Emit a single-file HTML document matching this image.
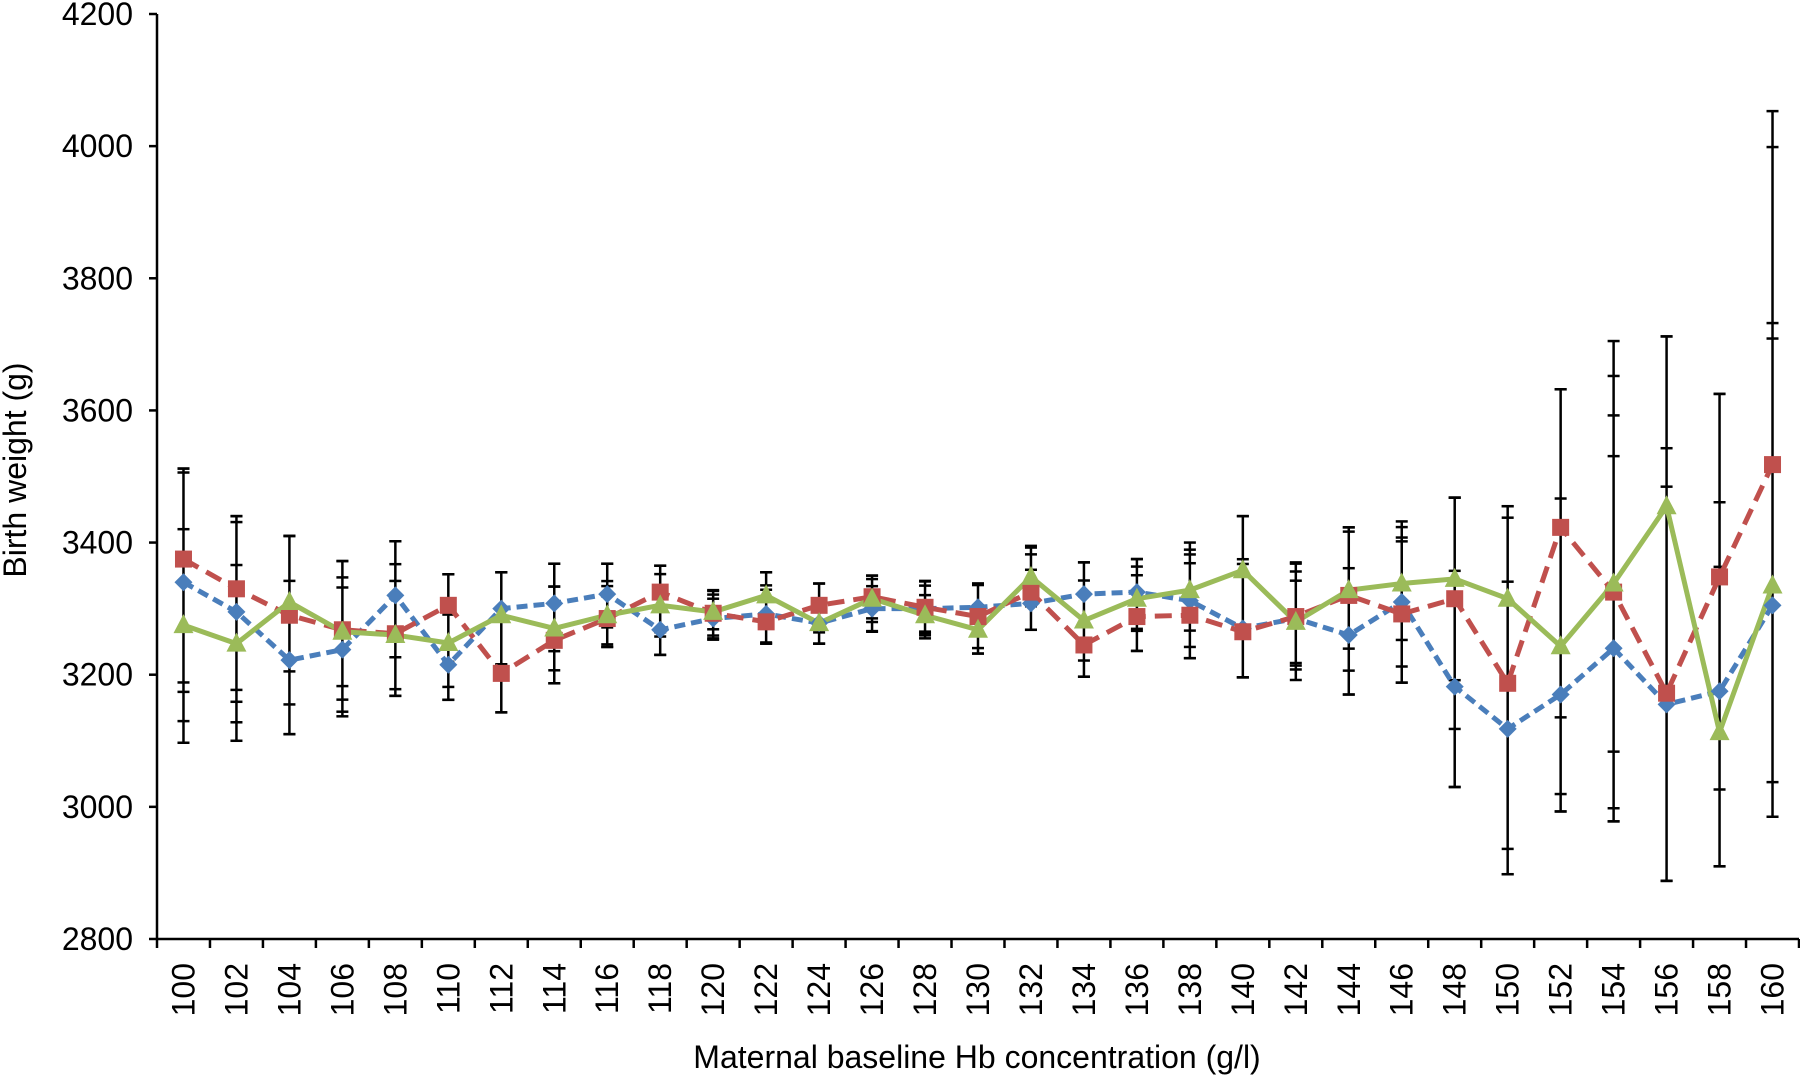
<!DOCTYPE html>
<html><head><meta charset="utf-8"><style>
html,body{margin:0;padding:0;background:#fff;}
svg text{font-family:"Liberation Sans",Arial,sans-serif;fill:#000;}
</style></head><body>
<svg id="c" width="1800" height="1077" xmlns="http://www.w3.org/2000/svg"></svg>
<script>
var svg=document.getElementById('c');
var X0=157,X1=1799,N=31,W=(X1-X0)/N;
function yv(v){return 14+(4200-v)*0.6607;}
function xc(i){return X0+W*(i+0.5);}
var h='';
h+='<line x1="'+X0+'" y1="14" x2="'+X0+'" y2="940" stroke="#000" stroke-width="2.5"/>';
h+='<line x1="'+X0+'" y1="939" x2="'+X1+'" y2="939" stroke="#000" stroke-width="2.5"/>';
for(var v=2800;v<=4200;v+=200){var y=yv(v);
 h+='<line x1="149" y1="'+y+'" x2="'+X0+'" y2="'+y+'" stroke="#000" stroke-width="2.5"/>';
 h+='<text x="133" y="'+(y+11)+'" font-size="32" text-anchor="end">'+v+'</text>';}
for(var i=0;i<=N;i++){var x=X0+W*i;
 h+='<line x1="'+x+'" y1="939" x2="'+x+'" y2="948" stroke="#000" stroke-width="2.5"/>';}
for(var i=0;i<N;i++){var x=xc(i)+11;
 h+='<text x="'+x+'" y="963" font-size="32" text-anchor="end" transform="rotate(-90 '+x+' 963)">'+(100+2*i)+'</text>';}
h+='<text x="26" y="470" font-size="32" text-anchor="middle" transform="rotate(-90 26 470)">Birth weight (g)</text>';
h+='<text x="977" y="1068" font-size="32" text-anchor="middle">Maternal baseline Hb concentration (g/l)</text>';
var B=[3340,3295,3222,3238,3320,3215,3300,3308,3322,3268,3285,3292,3278,3300,3300,3302,3308,3322,3325,3312,3270,3285,3260,3310,3182,3118,3170,3240,3155,3175,3305];
var R=[3375,3330,3290,3268,3262,3305,3202,3252,3285,3325,3293,3280,3305,3318,3302,3288,3325,3245,3288,3290,3265,3288,3320,3292,3315,3187,3423,3325,3172,3348,3518];
var G=[3275,3247,3310,3265,3260,3248,3290,3270,3290,3305,3295,3320,3278,3315,3290,3268,3348,3282,3315,3328,3358,3280,3328,3338,3345,3315,3243,3338,3455,3113,3335];
var E=[[3512,3097],[3440,3100],[3410,3110],[3372,3137],[3402,3168],[3352,3162],[3355,3143],[3368,3187],[3368,3242],[3365,3230],[3328,3253],[3355,3247],[3338,3247],[3350,3265],[3342,3255],[3338,3232],[3395,3268],[3370,3197],[3375,3236],[3400,3225],[3440,3196],[3370,3192],[3423,3170],[3432,3188],[3468,3030],[3455,2898],[3632,2993],[3705,2978],[3712,2888],[3625,2910],[4053,2985]];
function cap(x,y){return '<line x1="'+(x-6)+'" y1="'+y+'" x2="'+(x+6)+'" y2="'+y+'" stroke="#000" stroke-width="2.5"/>';}
for(var i=0;i<N;i++){var x=xc(i),t=E[i][0],b=E[i][1];
 h+='<line x1="'+x+'" y1="'+yv(t)+'" x2="'+x+'" y2="'+yv(b)+'" stroke="#000" stroke-width="2.5"/>';
 h+=cap(x,yv(t))+cap(x,yv(b));
 var H=(t-b)/2;
 [[B[i],0.8],[R[i],0.9],[G[i],0.7]].forEach(function(s){
   var up=Math.min(t,s[0]+H*s[1]),dn=Math.max(b,s[0]-H*s[1]);
   h+=cap(x,yv(up))+cap(x,yv(dn));});
}
function pts(a){return a.map(function(v,i){return xc(i)+','+yv(v);}).join(' ');}
h+='<polyline points="'+pts(B)+'" fill="none" stroke="#4a7ebb" stroke-width="5" stroke-dasharray="11,6"/>';
h+='<polyline points="'+pts(R)+'" fill="none" stroke="#c0504d" stroke-width="5" stroke-dasharray="17,9"/>';
h+='<polyline points="'+pts(G)+'" fill="none" stroke="#9bbb59" stroke-width="5"/>';
B.forEach(function(v,i){var x=xc(i),y=yv(v);h+='<polygon points="'+x+','+(y-9)+' '+(x+9)+','+y+' '+x+','+(y+9)+' '+(x-9)+','+y+'" fill="#4a7ebb"/>';});
R.forEach(function(v,i){var x=xc(i),y=yv(v);h+='<rect x="'+(x-8.5)+'" y="'+(y-8.5)+'" width="17" height="17" fill="#c0504d"/>';});
G.forEach(function(v,i){var x=xc(i),y=yv(v);h+='<polygon points="'+x+','+(y-11)+' '+(x+10)+','+(y+8)+' '+(x-10)+','+(y+8)+'" fill="#9bbb59"/>';});
svg.innerHTML=h;
</script>
</body></html>
